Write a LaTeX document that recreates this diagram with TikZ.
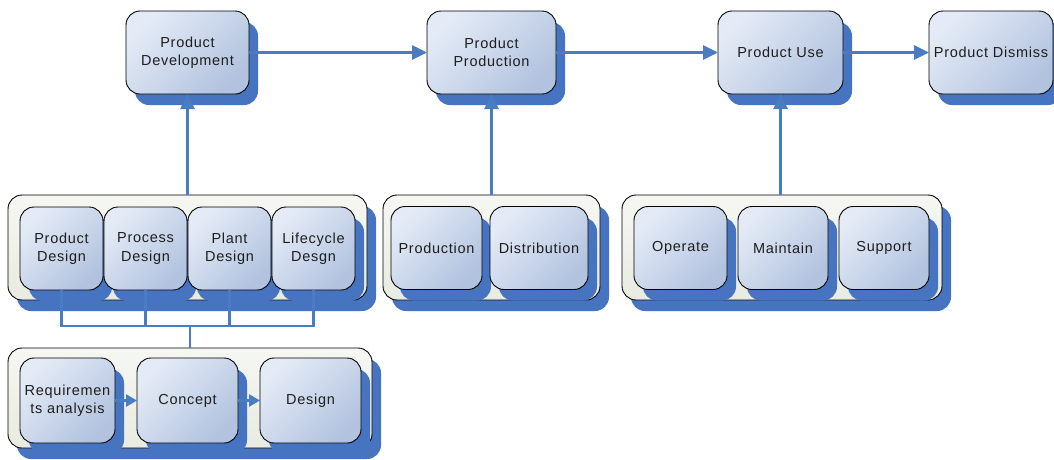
\documentclass[tikz,border=0pt]{standalone}
\usepackage{fontspec}
\newfontfamily\boxfont[LetterSpace=5]{Liberation Sans}
\usepackage{tikz}
\usetikzlibrary{arrows.meta,positioning,shadows}
\definecolor{shadowblue}{HTML}{4674C0}
\definecolor{linkblue}{HTML}{4A7CC2}
\definecolor{boxlight}{HTML}{E4EBF6}
\definecolor{boxdark}{HTML}{B2C3DF}
\definecolor{groupfill}{HTML}{E8EBE1}
\definecolor{textgray}{HTML}{1E1E1E}
\tikzset{
flow/.style={x=1pt,y=-1pt,node distance=1pt},
blueshadow/.style={drop shadow={shadow xshift=9pt,shadow yshift=-11pt,
    fill=shadowblue,opacity=1}},
stage/.style={rectangle,rounded corners=14pt,draw=black,line width=0.9pt,
    top color=boxlight,bottom color=boxdark,shading angle=45,blueshadow,
    minimum width=124pt,minimum height=83pt,inner sep=0pt,outer sep=0pt,
    align=center,text=textgray,font=\boxfont\fontsize{14.5}{18.5}\selectfont},
task/.style={stage,minimum width=#1,minimum height=83pt},
task/.default={83pt},
group/.style={rectangle,rounded corners=14pt,draw=black,line width=0.9pt,
    top color=groupfill!40!white,bottom color=groupfill,blueshadow,
    inner sep=0pt,outer sep=0pt},
link/.style={draw=linkblue,line width=2.6pt},
flowarrow/.style={link,-{Triangle[length=15pt,width=14pt]}},
stepout/.style={link,-{Triangle[length=11pt,width=12pt]}},
}

\begin{document}
\begin{tikzpicture}[flow]
    \useasboundingbox (0,0) rectangle (1054,459);

    % life cycle phases
    \node[stage,minimum width=123pt] (pdev) at (187.5,52.5) {Product\\Development};
    \node[stage,minimum width=129pt] (pprod) at (491.5,52.5) {Product\\Production};
    \node[stage,minimum width=125pt] (puse) at (780.5,52.5) {Product Use};
    \node[stage,minimum width=124pt] (pdis) at (991,52.5) {Product Dismiss};

    % groups
    \node[group,minimum width=359pt,minimum height=105pt] (grpdesign) at (187.5,247.5) {};
    \node[group,minimum width=364pt,minimum height=100pt] (grpreq) at (190,398) {};
    \node[group,minimum width=217pt,minimum height=105pt] (grpprod) at (491.5,247.5) {};
    \node[group,minimum width=320pt,minimum height=105pt] (grpuse) at (782,247.5) {};

    \node[task] (pdesign) at (61.5,248.5) {Product\\Design};
    \node[task] (prdesign) [right=of pdesign] {Process\\Design};
    \node[task] (pldesign) [right=of prdesign] {Plant\\Design};
    \node[task] (lcdesign) [right=of pldesign] {Lifecycle\\Desgn};

    \node[task=95pt,minimum height=85pt] (req) at (67.5,400.5) {Requiremen\\ts analysis};
    \node[task=101pt,minimum height=85pt] (concept) [right=22pt of req] {Concept};
    \node[task=101pt,minimum height=85pt] (design) [right=22pt of concept] {Design};

    \node[task=91pt] (production) at (436.5,248) {Production};
    \node[task=98pt] (distribution) [right=8pt of production] {Distribution};

    \node[task=93pt] (operate) at (680.5,248) {Operate};
    \node[task=90pt] (maintain) [right=11pt of operate] {Maintain};
    \node[task=90pt] (support) [right=11pt of maintain] {Support};

    \coordinate (bus) at (grpreq.north |- 0,326);

    \draw[flowarrow] (pdev) -- (pprod);
    \draw[flowarrow] (pprod) -- (puse);
    \draw[flowarrow] (puse) -- (pdis);
    \draw[flowarrow] (grpdesign) -- (pdev);
    \draw[flowarrow] (grpprod) -- (pprod);
    \draw[flowarrow] (grpuse.north -| puse) -- (puse.south);
    \draw[stepout] (req) -- (concept);
    \draw[stepout] (concept) -- (design);
    \draw[link] (pdesign.south) |- (lcdesign.south |- bus) -- (lcdesign.south);
    \draw[link] (prdesign.south) -- (prdesign.south |- bus);
    \draw[link] (pldesign.south) -- (pldesign.south |- bus);
    \draw[link] (bus) -- (grpreq.north);
\end{tikzpicture}
\end{document}
